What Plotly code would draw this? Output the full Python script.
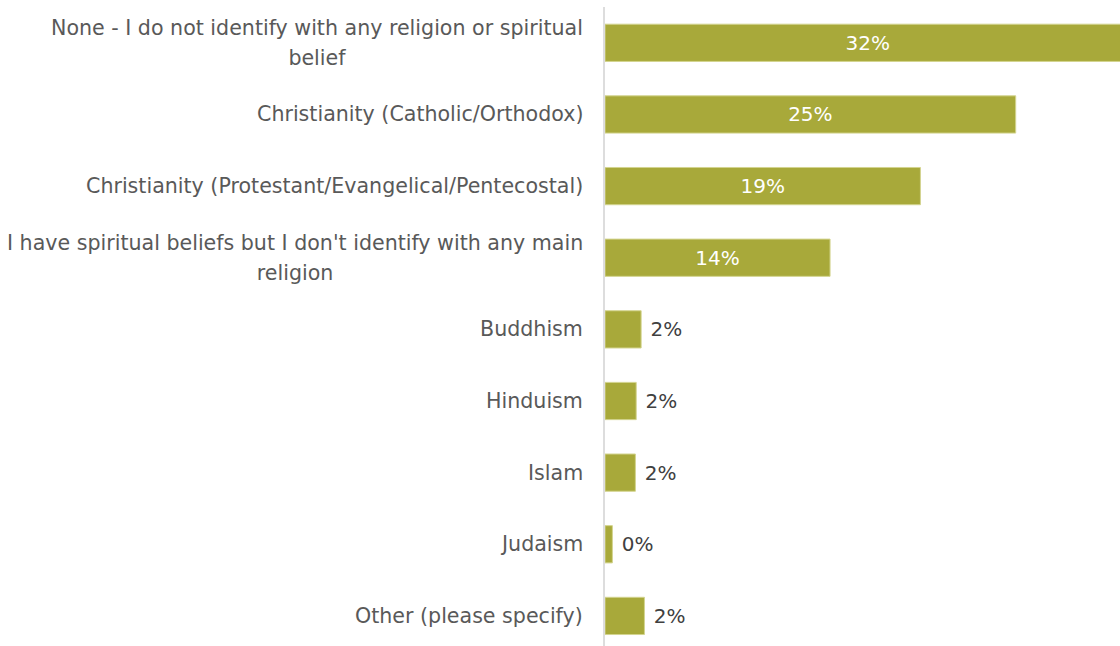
import plotly.graph_objects as go

# Survey responses: religion / belief identification (share of respondents, %)
categories = [
    "None - I do not identify with any religion or spiritual<br>belief",
    "Christianity (Catholic/Orthodox)",
    "Christianity (Protestant/Evangelical/Pentecostal)",
    "I have spiritual beliefs but I don't identify with any main<br>religion",
    "Buddhism",
    "Hinduism",
    "Islam",
    "Judaism",
    "Other (please specify)",
]
shares = [32.0, 25.0, 19.2, 13.7, 2.2, 1.9, 1.85, 0.45, 2.4]

BAR_COLOR = "#A8A93A"
FONT = "DejaVu Sans"
LABEL_SIZE = 20.6
LINE_BOX = 23  # sets the 1.3em line pitch of wrapped category labels (~30px)
positions = list(range(len(categories)))

# Larger bars carry their label inside in white; small ones outside in dark grey
text_pos = ["inside" if v >= 5 else "outside" for v in shares]
bar_text = [
    (f"{v:.0f}%" if p == "inside" else f"\u00a0{v:.0f}%")
    for v, p in zip(shares, text_pos)
]

fig = go.Figure(
    go.Bar(
        x=shares,
        y=positions,
        orientation="h",
        marker=dict(color=BAR_COLOR, line=dict(color="#d3d48f", width=1)),
        width=0.52,
        text=bar_text,
        textposition=text_pos,
        insidetextanchor="middle",
        insidetextfont=dict(color="#ffffff", size=20, family=FONT),
        outsidetextfont=dict(color="#404040", size=20, family=FONT),
        cliponaxis=True,
        hoverinfo="skip",
    )
)

# Category labels, centred line by line and right-aligned against the axis
for pos, label in zip(positions, categories):
    lines = [f'<span style="font-size:{LABEL_SIZE}px">{ln}</span>' for ln in label.split("<br>")]
    fig.add_annotation(
        x=0,
        xref="paper",
        y=pos,
        yref="y",
        text="<br>".join(lines),
        xanchor="right",
        yanchor="middle",
        align="center",
        xshift=-20,
        showarrow=False,
        font=dict(family=FONT, size=LINE_BOX, color="#595959"),
    )

fig.update_layout(
    width=1120,
    height=646,
    margin=dict(l=605, r=0, t=7, b=0),
    paper_bgcolor="#ffffff",
    plot_bgcolor="#ffffff",
    showlegend=False,
    font=dict(family=FONT, size=20, color="#595959"),
)

fig.update_xaxes(
    range=[0, 31.35],
    showgrid=False,
    zeroline=False,
    showticklabels=False,
    showline=False,
)

fig.update_yaxes(
    tickvals=positions,
    showticklabels=False,
    range=[8.42, -0.5],
    showgrid=False,
    zeroline=False,
    showline=True,
    linecolor="#dddddd",
    linewidth=2,
    ticks="",
)

fig.write_html("out.html")
